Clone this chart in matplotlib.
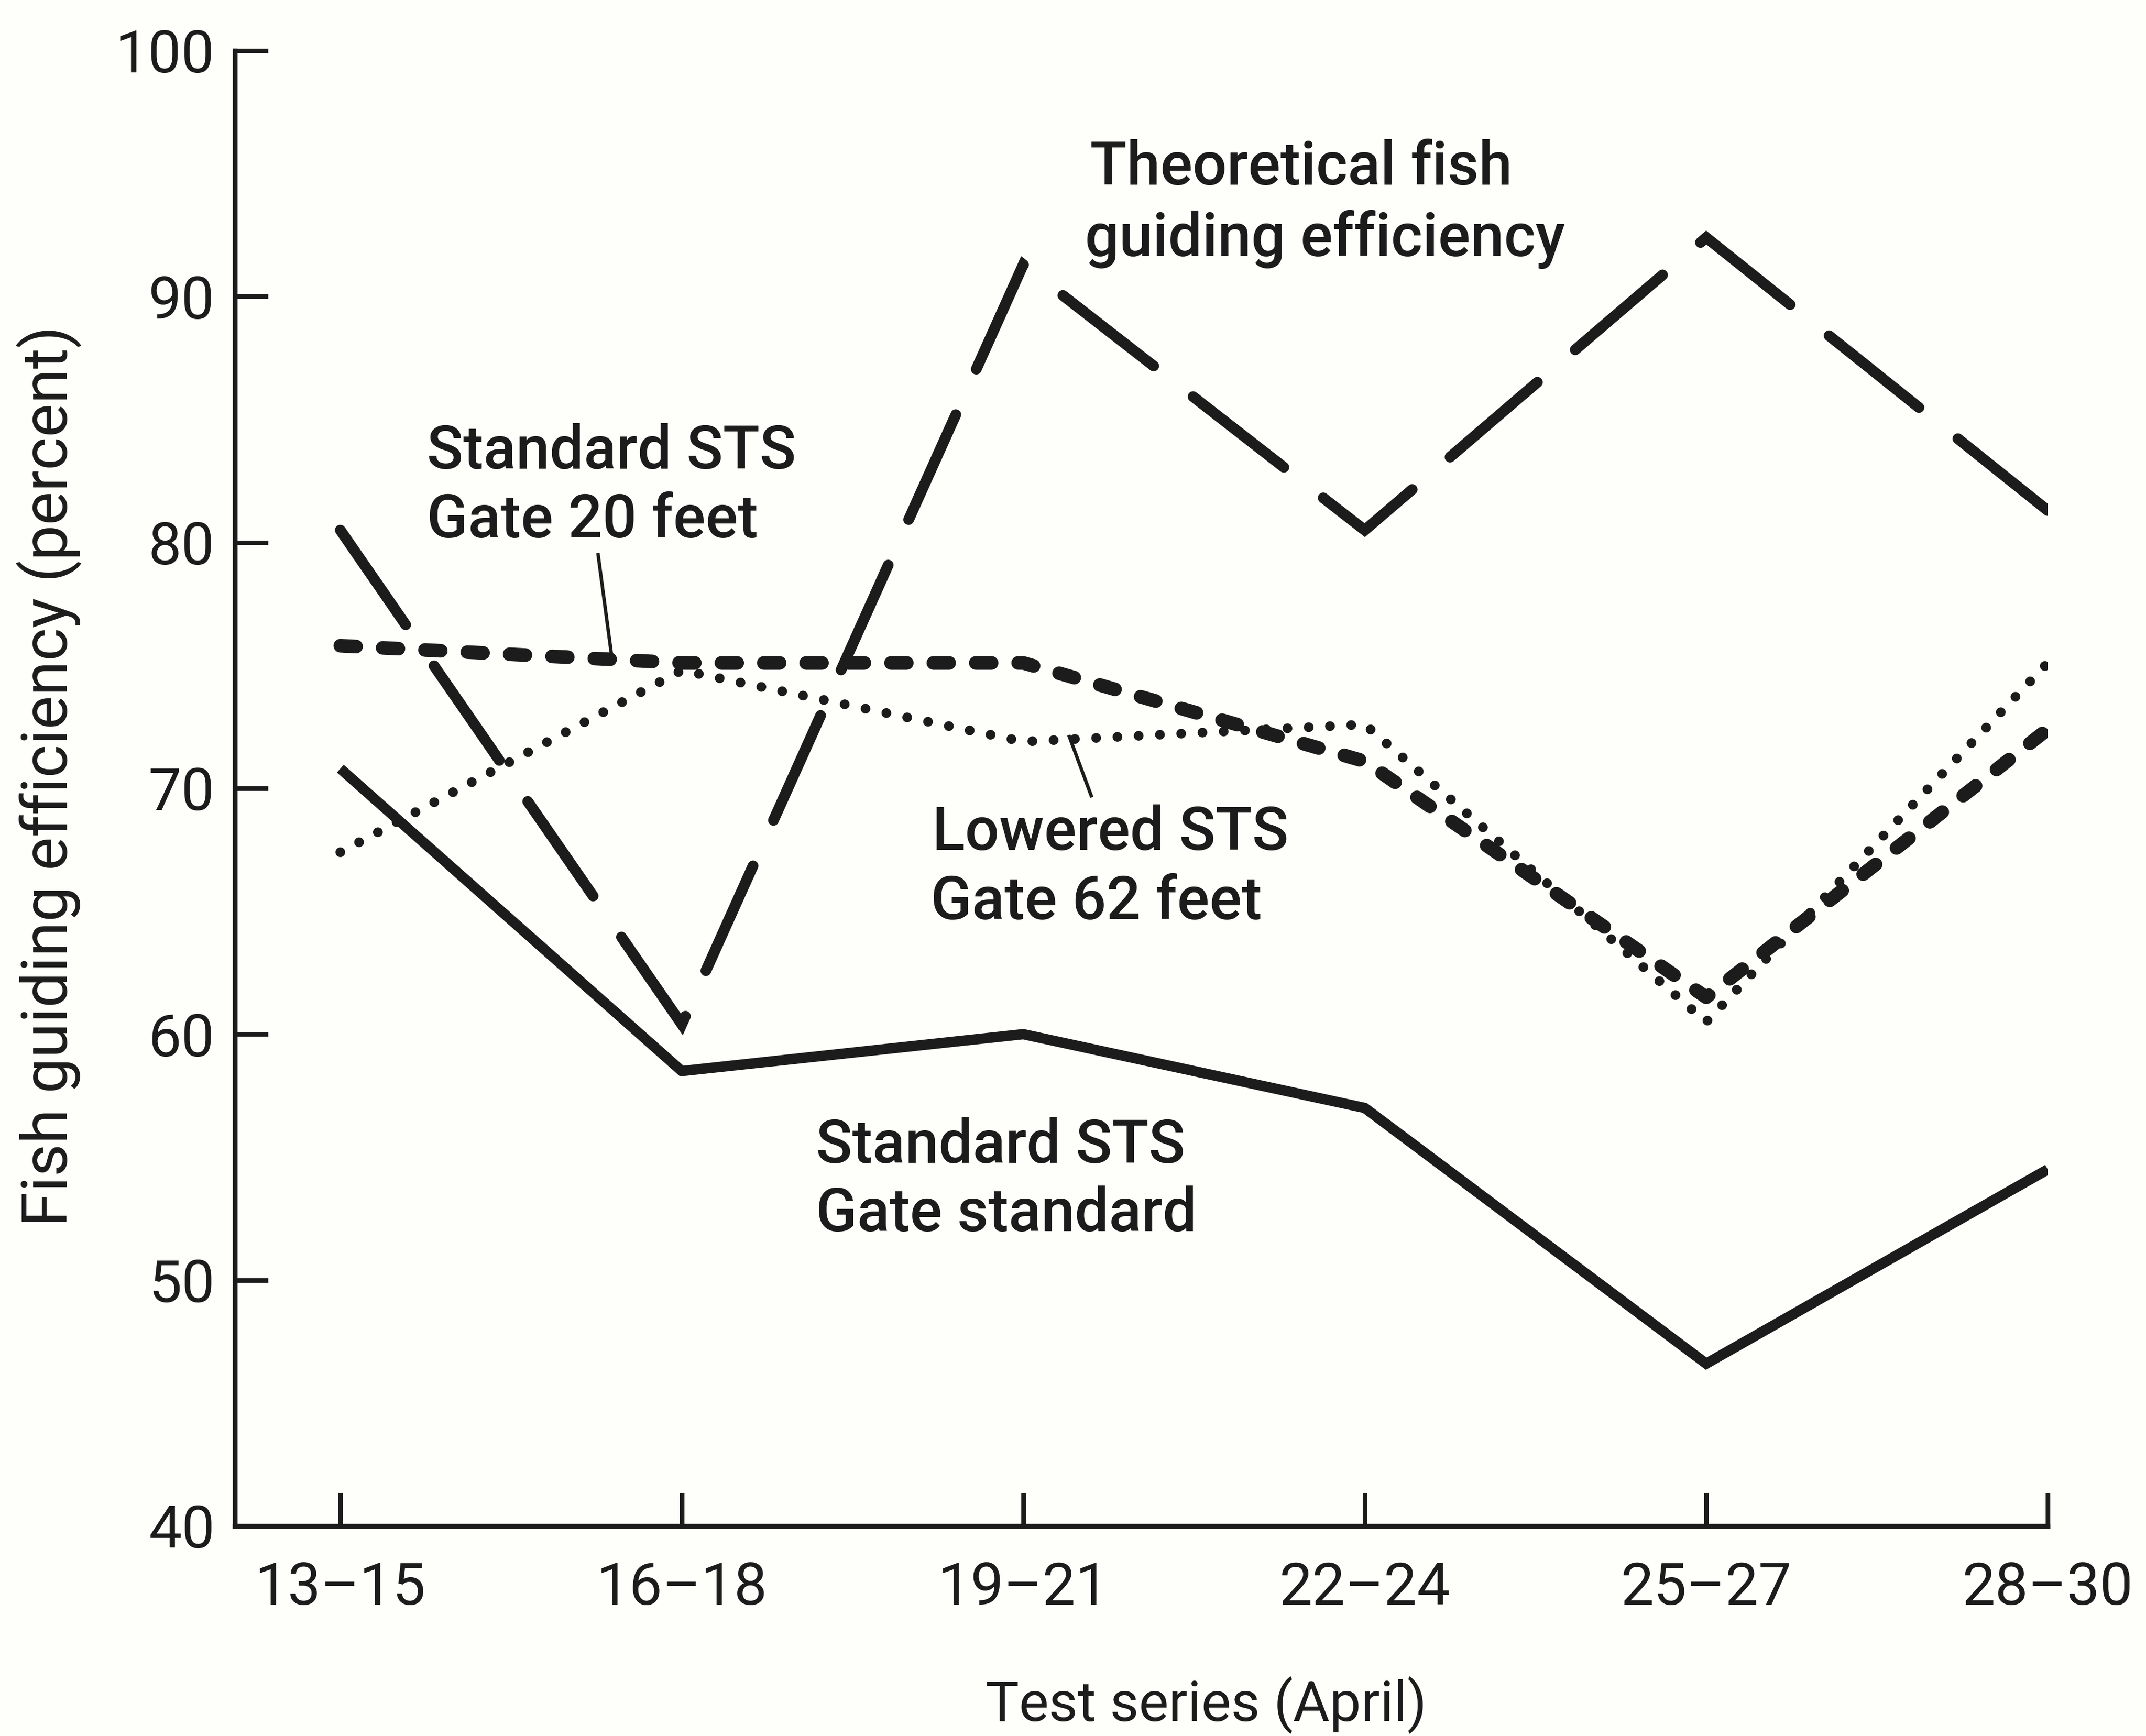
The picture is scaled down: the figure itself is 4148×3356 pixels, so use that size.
import matplotlib
matplotlib.use("Agg")
import matplotlib.pyplot as plt
import numpy as np

# ---------------- data ----------------
categories = ["13\u201315", "16\u201318", "19\u201321", "22\u201324", "25\u201327", "28\u201330"]
theoretical = [80.5, 60.4, 91.3, 80.5, 92.4, 81.3]
gate_standard = [70.8, 58.5, 60.0, 57.0, 46.6, 54.5]
gate_20ft = [75.8, 75.1, 75.1, 71.1, 61.5, 72.4]
lowered_62ft = [67.4, 74.8, 71.9, 72.6, 60.5, 75.1]
yticks = [40, 50, 60, 70, 80, 90, 100]

plt.rcParams['lines.scale_dashes'] = False
plt.rcParams['font.family'] = ['Roboto', 'DejaVu Sans']

INK = '#1c1c1c'
BG = '#fefefb'
DPI = 200

fig = plt.figure(figsize=(20.74, 16.78), dpi=DPI, facecolor=BG)
ax = fig.add_axes([0.1094, 0.121, 0.8448, 0.8498])
ax.set_facecolor(BG)

x = list(range(len(categories)))

ax.set_xlim(-0.309, 5.0)
ax.set_ylim(40, 100)

# dash pattern for the theoretical curve: make both ends fall on a dash
pts = ax.transData.transform(np.column_stack([x, theoretical])) * 72.0 / DPI
L = float(np.sum(np.hypot(*np.diff(pts, axis=0).T)))
on0, off0 = 80.0, 33.0
n = int(round((L + off0) / (on0 + off0)))
off = (L - n * on0) / (n - 1)

ax.plot(x, gate_standard, color=INK, lw=7.2, solid_joinstyle='miter',
        solid_capstyle='butt', zorder=3)
ax.plot(x, theoretical, color=INK, lw=7.5, dashes=(on0, off),
        dash_capstyle='round', dash_joinstyle='miter', zorder=3)
ax.plot(x, gate_20ft, color=INK, lw=9.5, dashes=(11, 18.5),
        dash_capstyle='round', dash_joinstyle='round', zorder=3)
ax.plot(x, lowered_62ft, color=INK, lw=6.8, dashes=(0.01, 14.8),
        dash_capstyle='round', zorder=3)

ax.set_xticks(x)
ax.set_xticklabels(categories)
ax.set_yticks(yticks)
ax.set_yticklabels([str(v) for v in yticks])

for s in ['top', 'right']:
    ax.spines[s].set_visible(False)
for s in ['left', 'bottom']:
    ax.spines[s].set_linewidth(3.4)
    ax.spines[s].set_color(INK)

ax.tick_params(axis='both', direction='in', length=23, width=3.2, color=INK,
               labelsize=41, labelcolor=INK)
ax.tick_params(axis='x', pad=24)
ax.tick_params(axis='y', pad=14)

# annotations
tk = dict(fontsize=42, fontweight='medium', color=INK, ha='left', va='baseline')
ax.text(2.195, 94.55, "Theoretical fish", **tk)
ax.text(2.18, 91.65, "guiding efficiency", **tk)
ax.text(0.253, 83.0, "Standard STS", **tk)
ax.text(0.253, 80.2, "Gate 20 feet", **tk)
ax.text(1.733, 67.5, "Lowered STS", **tk)
ax.text(1.729, 64.67, "Gate 62 feet", **tk)
ax.text(1.393, 54.76, "Standard STS", **tk)
ax.text(1.393, 51.98, "Gate standard", **tk)

# leader lines
ax.plot([0.755, 0.795], [79.5, 75.35], color=INK, lw=2.4, zorder=4)
ax.plot([2.135, 2.199], [72.1, 69.7], color=INK, lw=2.4, zorder=4)

fig.text(0.562, 0.0086, "Test series (April)", fontsize=39, fontweight='normal',
         color=INK, ha='center', va='baseline')
fig.text(0.0229, 0.5528, "Fish guiding efficiency (percent)", fontsize=44,
         fontweight='normal', color=INK, ha='center', va='center',
         rotation=90)

fig.savefig("out.png", dpi=DPI, facecolor=BG)
